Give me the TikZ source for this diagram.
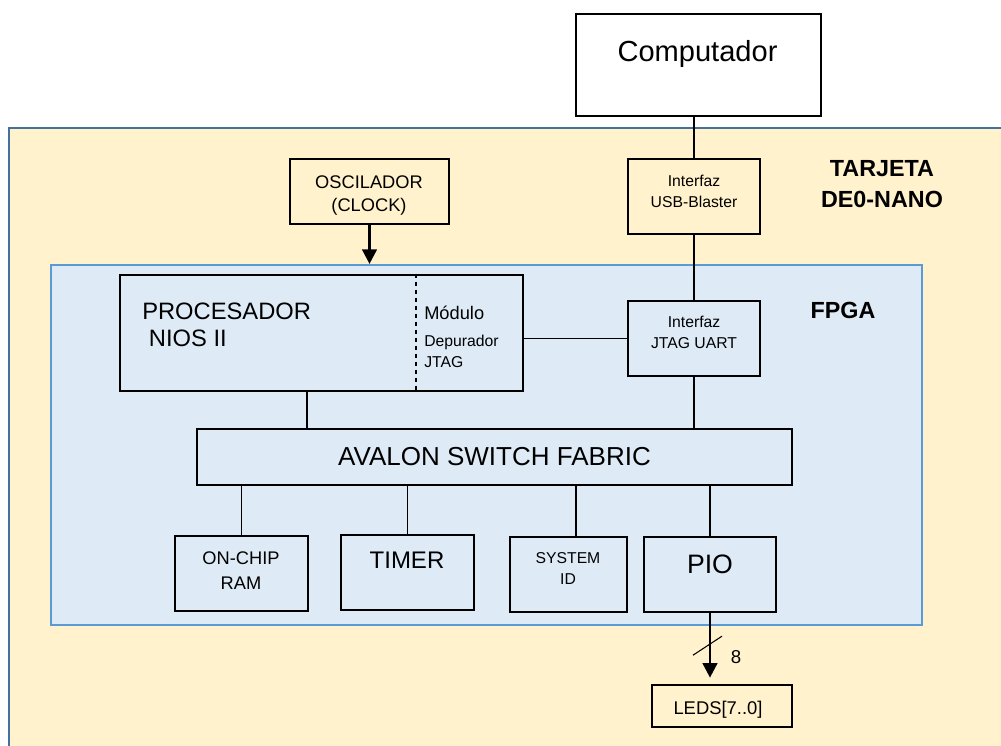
\documentclass[tikz,border=0pt]{standalone}
\usepackage{fontspec}
\setmainfont{Liberation Sans}
\usetikzlibrary{arrows.meta}
\tikzset{>={Triangle[length=11pt,width=11pt]}}
\definecolor{boardfill}{RGB}{255,242,204}
\definecolor{boardline}{RGB}{65,113,156}
\definecolor{fpgafill}{RGB}{222,235,247}
\definecolor{fpgaline}{RGB}{91,155,213}
\newcommand{\fsz}[2]{\fontsize{#1}{#2}\selectfont}

\begin{document}
\begin{tikzpicture}[x=0.75pt, y=-0.75pt,
  blk/.style={draw, line width=2pt, inner sep=0pt},
  sz/.style 2 args={minimum width=#1*0.75pt, minimum height=#2*0.75pt},
  wire/.style={line width=1.2pt},
  txt/.style={anchor=base, align=center, inner sep=0pt},
  ltxt/.style={anchor=base west, align=left, inner sep=0pt}]
\useasboundingbox (0,0) rectangle (1001,746);

% tarjeta y FPGA
\draw[boardline, fill=boardfill, line width=1.6pt] (9,128) rectangle (1020,770);
\node[draw=fpgaline, fill=fpgafill, line width=1.6pt, sz={871}{360}] (fpga) at (486.5,445) {};
\node[txt, font=\bfseries\fsz{17.5}{23.25}] (tarj) at (882,207) {TARJETA\\DE0-NANO};
\node[txt, font=\bfseries\fsz{17.5}{21}] (fpgat) at (843,318) {FPGA};

% bloques de arriba
\node[blk, sz={245}{102}] (pc) at (698.5,65) {};
\node[txt, font=\fsz{21.8}{26}] (pct) at (697.5,61) {Computador};
\node[blk, sz={132}{75}] (usb) at (694,196.5) {};
\node[txt, font=\fsz{11.8}{15.75}] (usbt) at (694,207) {Interfaz\\USB-Blaster};
\node[blk, sz={159}{65}] (osc) at (369.5,191.5) {};
\node[txt, font=\fsz{13.7}{17.25}] (osct) at (369,211) {OSCILADOR\\(CLOCK)};

% procesador
\node[blk, sz={403}{116}] (proc) at (321.5,333) {};
\draw[dash pattern=on 3.5pt off 2.5pt, line width=1.1pt] ([xshift=70.9pt]proc.north) -- ([xshift=70.9pt]proc.south);
\node[ltxt, font=\fsz{17.8}{20.25}] (proct) at (142,346) {PROCESADOR\\\hspace*{5pt}NIOS II};
\node[ltxt, font=\fsz{13.7}{16}] (modt) at (424,319) {Módulo};
\node[ltxt, font=\fsz{11.8}{15.75}] (dept) at (424,367) {Depurador\\JTAG};
\node[blk, sz={132}{75}] (uart) at (694,338.5) {};
\node[txt, font=\fsz{11.8}{15.75}] (uartt) at (694,348) {Interfaz\\JTAG UART};

% bus
\node[blk, sz={595}{56}, font=\fsz{19.5}{23}] (avalon) at (494.5,457) {AVALON SWITCH FABRIC};

% perifericos
\node[blk, sz={133}{75}] (ram) at (241.5,573.5) {};
\node[txt, font=\fsz{13.7}{18.75}] (ramt) at (241,589) {ON-CHIP\\RAM};
\node[blk, sz={133}{75}] (timer) at (407.5,572.5) {};
\node[txt, font=\fsz{18}{22}] (timert) at (407,568) {TIMER};
\node[blk, sz={117}{75}] (sysid) at (568.5,574.5) {};
\node[txt, font=\fsz{11.8}{15.75}] (sysidt) at (568,584) {SYSTEM\\ID};
\node[blk, sz={132}{75}] (pio) at (710,574.5) {};
\node[txt, font=\fsz{20}{24}] (piot) at (710,573) {PIO};
\node[blk, sz={140}{42}] (leds) at (722,706) {};
\node[txt, font=\fsz{13.8}{16}] (ledst) at (718,714) {LEDS[7..0]};

% conexiones
\draw[wire] (usb.north) -- (usb.north |- pc.south);
\draw[wire] (usb) -- (uart);
\draw[wire] (uart.west) -- (uart.west -| proc.east);
\draw[line width=2pt, ->] (osc.south) -- (osc.south |- fpga.north);
\draw[wire] ([xshift=-10.9pt]proc.south) -- ([xshift=-10.9pt]proc.south |- avalon.north);
\draw[wire] (uart.south) -- (uart.south |- avalon.north);
\foreach \b in {ram, timer, pio}
  \draw[wire] (\b.north) -- (\b.north |- avalon.south);
\draw[wire] ([xshift=5.6pt]sysid.north) -- ([xshift=5.6pt]sysid.north |- avalon.south);
\draw[line width=2pt, ->, shorten >=4.5pt] (pio.south) -- coordinate[pos=0.46] (bus) (pio.south |- leds.north);
\draw[line width=0.8pt] ([shift={(-17,9.5)}]bus) -- ([shift={(12,-9.5)}]bus);
\node[txt, font=\fsz{14}{16}] (bw) at (736,663) {8};
\end{tikzpicture}
\end{document}
